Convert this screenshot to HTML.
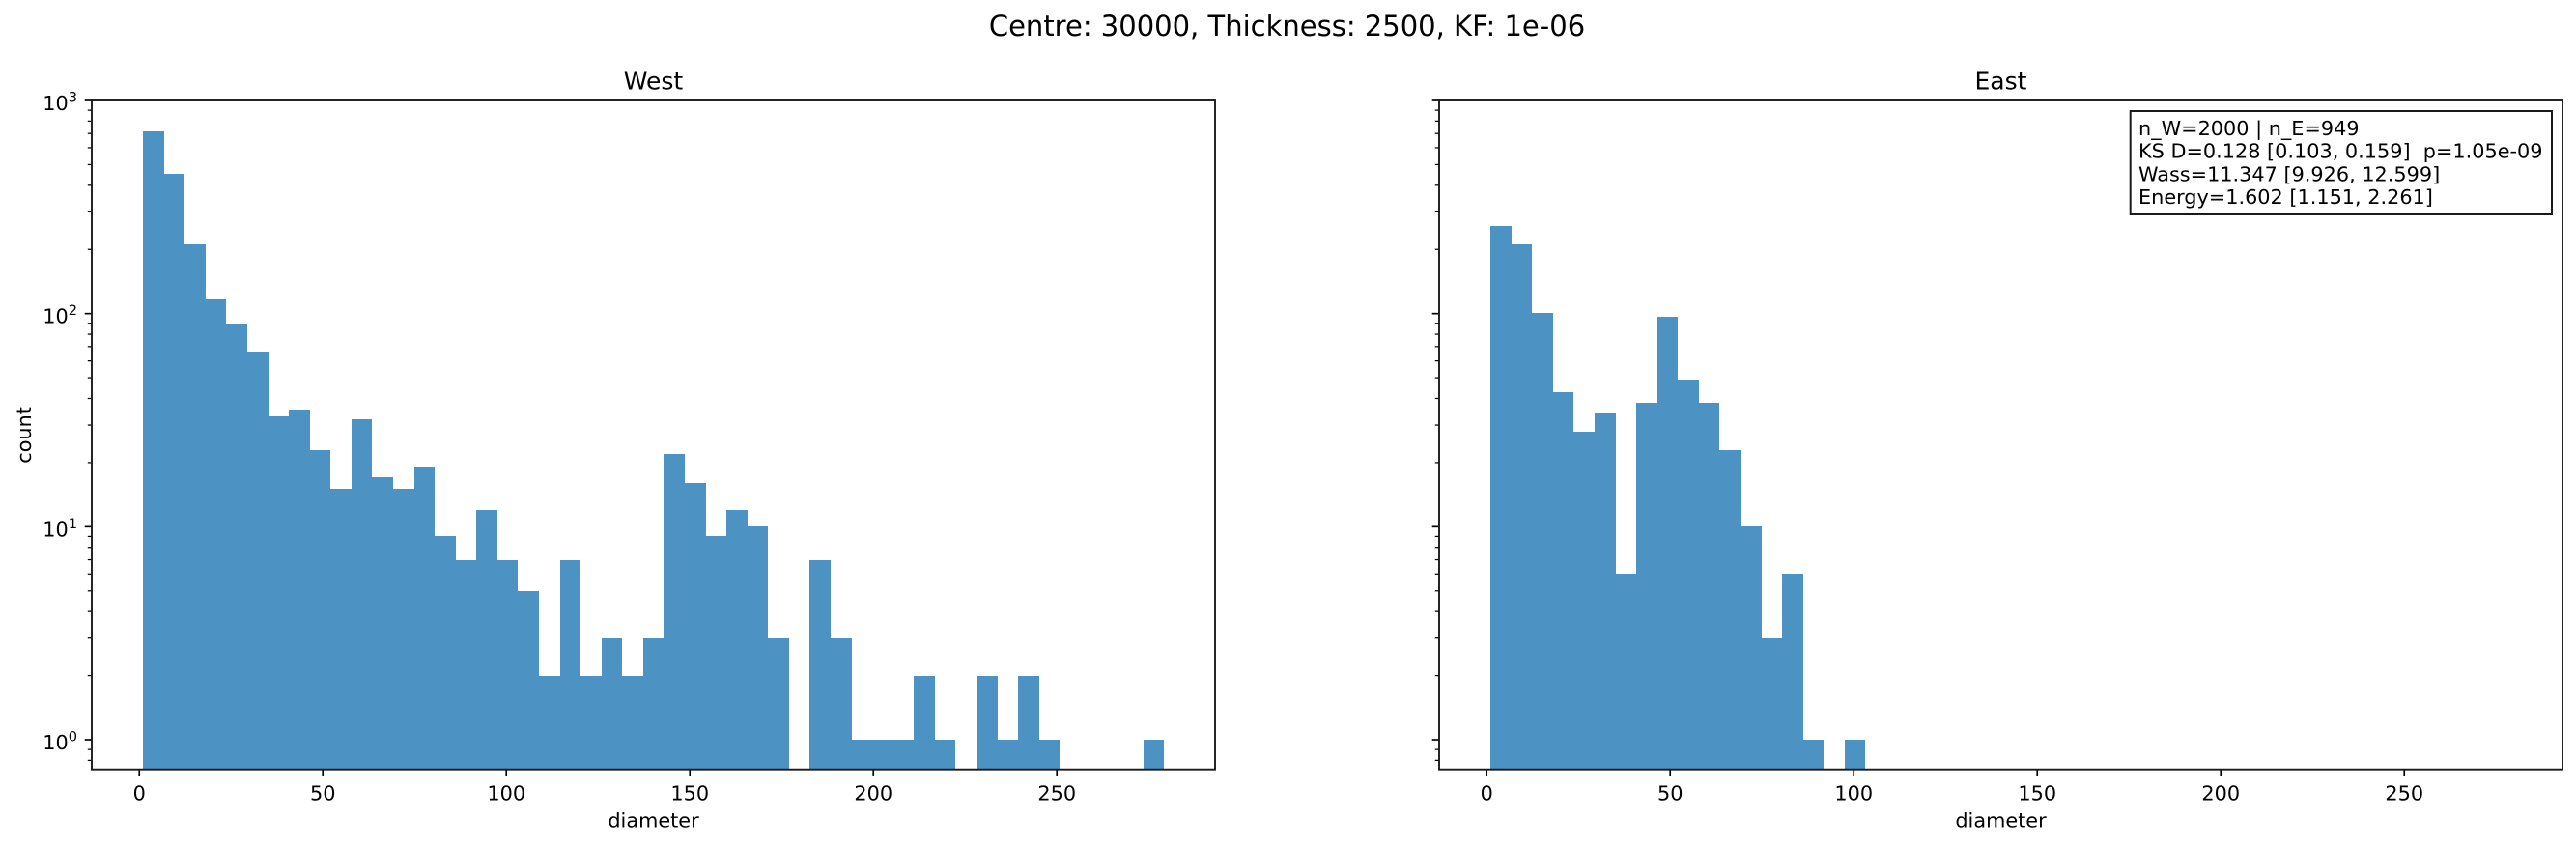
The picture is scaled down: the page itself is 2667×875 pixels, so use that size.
<!DOCTYPE html>
<html lang="en">
<head>
<meta charset="utf-8">
<title>Centre: 30000, Thickness: 2500, KF: 1e-06</title>
<style>
html,body{margin:0;padding:0;background:#fff;width:2667px;height:875px;overflow:hidden}
svg{display:block}
text{font-family:"DejaVu Sans","Liberation Sans",sans-serif;fill:#000}
</style>
</head>
<body>
<svg id="figure" xmlns="http://www.w3.org/2000/svg" width="2667" height="875" viewBox="0 0 2667 875">
  <text x="1332.5" y="37" text-anchor="middle" font-size="29">Centre: 30000, Thickness: 2500, KF: 1e-06</text>
</svg>
<script>
var westCounts = [715,452,211,116,89,66,33,35,23,15,32,17,15,19,9,7,12,7,5,2,7,2,3,2,3,22,16,9,12,10,3,0,7,3,1,1,1,2,1,0,2,1,2,1,0,0,0,0,1];
var eastCounts = [257,211,101,43,28,34,6,38,97,49,38,23,10,3,6,1,0,1];
var xTickValues = [0,50,100,150,200,250];
var yTickExponents = [0,1,2,3];
var minorMultipliers = [2,3,4,5,6,7,8,9];
var binStart = 1.05;
var binWidth = 5.676;
var xLimits = [-12.95, 293.1];
var yLimits = [0.726, 1000];
var annotationLines = [
  "n_W=2000 | n_E=949",
  "KS D=0.128 [0.103, 0.159]  p=1.05e-09",
  "Wass=11.347 [9.926, 12.599]",
  "Energy=1.602 [1.151, 2.261]"
];

var NS = "http://www.w3.org/2000/svg";
var svg = document.getElementById("figure");
var plotTop = 104, plotBottom = 796.7, plotWidth = 1163;

function yScale(v) {
  var lo = Math.log10(yLimits[0]), hi = Math.log10(yLimits[1]);
  return plotBottom - (Math.log10(v) - lo) / (hi - lo) * (plotBottom - plotTop);
}
function xScale(panelLeft, v) {
  return panelLeft + (v - xLimits[0]) / (xLimits[1] - xLimits[0]) * plotWidth;
}
function make(tag, parent, props) {
  var node = document.createElementNS(NS, tag);
  for (var k in props) node.setAttribute(k, props[k]);
  parent.appendChild(node);
  return node;
}

function drawPanel(panelKey, panelLeft, titleText, counts, showYLabels) {
  var panel = make("g", svg, {});
  
  

  counts.forEach(function (count, i) {
    if (count <= 0) return;
    var x0 = Math.round(xScale(panelLeft, binStart + i * binWidth));
    var x1 = Math.round(xScale(panelLeft, binStart + (i + 1) * binWidth));
    var yTop = Math.round(yScale(count));
    var bar = make("rect", panel, {
      x: x0, y: yTop, width: x1 - x0, height: plotBottom - yTop,
      fill: "#1f77b4", "fill-opacity": 0.8, "shape-rendering": "crispEdges"
    });
    
    
  });

  xTickValues.forEach(function (value) {
    var px = xScale(panelLeft, value);
    var tick = make("line", panel, {x1: px, x2: px, y1: plotBottom, y2: plotBottom + 7.3, stroke: "#000", "stroke-width": 1.67});
    
    
    var label = make("text", panel, {x: px, y: 828.7, "text-anchor": "middle", "font-size": 20.8});
    label.textContent = String(value);
    
    
  });

  yTickExponents.forEach(function (exp) {
    var py = yScale(Math.pow(10, exp));
    var tick = make("line", panel, {x1: panelLeft - 7.3, x2: panelLeft, y1: py, y2: py, stroke: "#000", "stroke-width": 1.67});
    
    
    if (showYLabels) {
      var label = make("text", panel, {x: panelLeft - 15, y: py + 10, "text-anchor": "end", "font-size": 20.8});
      
      
      var base = make("tspan", label, {});
      base.textContent = "10";
      var sup = make("tspan", label, {dy: -8.5, "font-size": 14.6});
      sup.textContent = String(exp);
    }
  });

  [-1].concat(yTickExponents).forEach(function (exp) {
    minorMultipliers.forEach(function (m) {
      var v = m * Math.pow(10, exp);
      if (v < yLimits[0] || v > yLimits[1]) return;
      var py = yScale(v);
      var tick = make("line", panel, {x1: panelLeft - 4.2, x2: panelLeft, y1: py, y2: py, stroke: "#000", "stroke-width": 1.25});
      
      
    });
  });

  var frame = make("rect", panel, {x: panelLeft, y: plotTop, width: plotWidth, height: plotBottom - plotTop, fill: "none", stroke: "#1a1a1a", "stroke-width": 1.9});
  
  

  var title = make("text", panel, {x: panelLeft + plotWidth / 2, y: 92.5, "text-anchor": "middle", "font-size": 25});
  title.textContent = titleText;
  
  

  var xLabel = make("text", panel, {x: panelLeft + plotWidth / 2, y: 856.7, "text-anchor": "middle", "font-size": 20.8});
  xLabel.textContent = "diameter";
  
  
}

drawPanel("west", 95, "West", westCounts, true);
drawPanel("east", 1490, "East", eastCounts, false);

var yTitle = make("text", svg, {x: 0, y: 0, "text-anchor": "middle", "font-size": 20.8, transform: "translate(32 450.4) rotate(-90)"});
yTitle.textContent = "count";



var statsBox = make("rect", svg, {x: 2205.7, y: 115, width: 436.3, height: 107, fill: "#fff", stroke: "#1a1a1a", "stroke-width": 2});



annotationLines.forEach(function (line, i) {
  var t = make("text", svg, {x: 2214, y: 140 + i * 23.7, "font-size": 20.8});
  t.style.whiteSpace = "pre";
  t.textContent = line;
  
  
});
</script>
</body>
</html>
